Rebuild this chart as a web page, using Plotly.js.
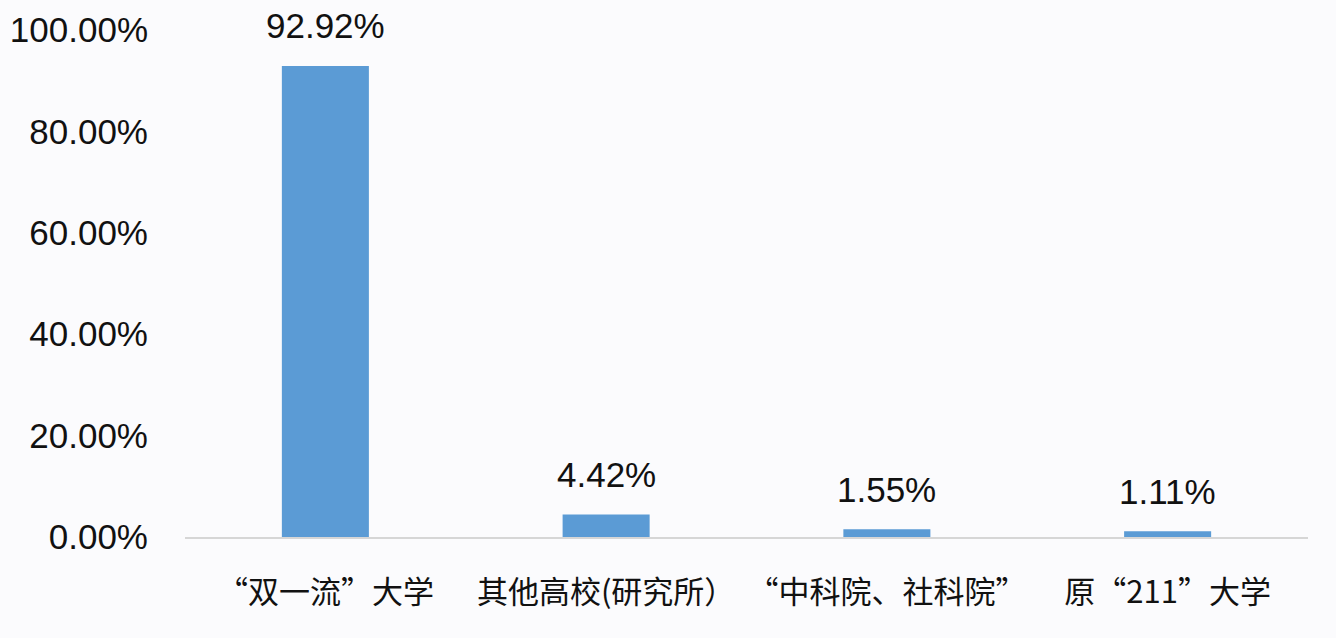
<!DOCTYPE html>
<html>
<head>
<meta charset="utf-8">
<script src="https://cdn.plot.ly/plotly-3.0.1.min.js"></script>
<style>
  html, body { margin: 0; padding: 0; background: #fbfbfd; }
  #chart { width: 1336px; height: 638px; }
</style>
</head>
<body>
<div id="chart"></div>
<script>
const categories = ['“双一流”大学', '其他高校(研究所）', '“中科院、社科院”', '原“211”大学'];
const shares = [92.92, 4.42, 1.55, 1.11];
const tickValues = [0, 20, 40, 60, 80, 100];
const tickLabels = ['0.00%', '20.00%', '40.00%', '60.00%', '80.00%', '100.00%'];

const font = 'Liberation Sans, Arial, Noto Sans CJK SC, sans-serif';

const bars = {
  type: 'bar',
  x: categories,
  y: shares,
  width: 0.31,
  marker: { color: '#5b9bd5' },
  hoverinfo: 'none'
};

// value labels sit well above each bar, like the original
const labels = categories.map((c, i) => ({
  x: c,
  y: shares[i],
  text: shares[i].toFixed(2) + '%',
  showarrow: false,
  yanchor: 'middle',
  yshift: 40,
  font: { family: font, size: 35, color: '#111' }
}));

const layout = {
  width: 1336,
  height: 638,
  margin: { l: 185, r: 28, t: 30, b: 101 },
  paper_bgcolor: '#fbfbfd',
  plot_bgcolor: '#fbfbfd',
  showlegend: false,
  font: { family: font, size: 32, color: '#111' },
  xaxis: {
    type: 'category',
    showgrid: false,
    zeroline: false,
    showline: true,
    linecolor: '#d6d6d6',
    linewidth: 1.5,
    ticks: '',
    ticklabelstandoff: 27,
    tickfont: { family: 'Noto Sans CJK SC, sans-serif', size: 31, color: '#111' }
  },
  yaxis: {
    range: [0, 100],
    tickvals: tickValues,
    ticktext: tickLabels,
    showgrid: false,
    zeroline: false,
    showline: false,
    ticks: '',
    ticklabelstandoff: 36,
    tickfont: { family: font, size: 35, color: '#111' }
  },
  annotations: labels
};

Plotly.newPlot('chart', [bars], layout, { displayModeBar: false, staticPlot: true });
</script>
</body>
</html>
